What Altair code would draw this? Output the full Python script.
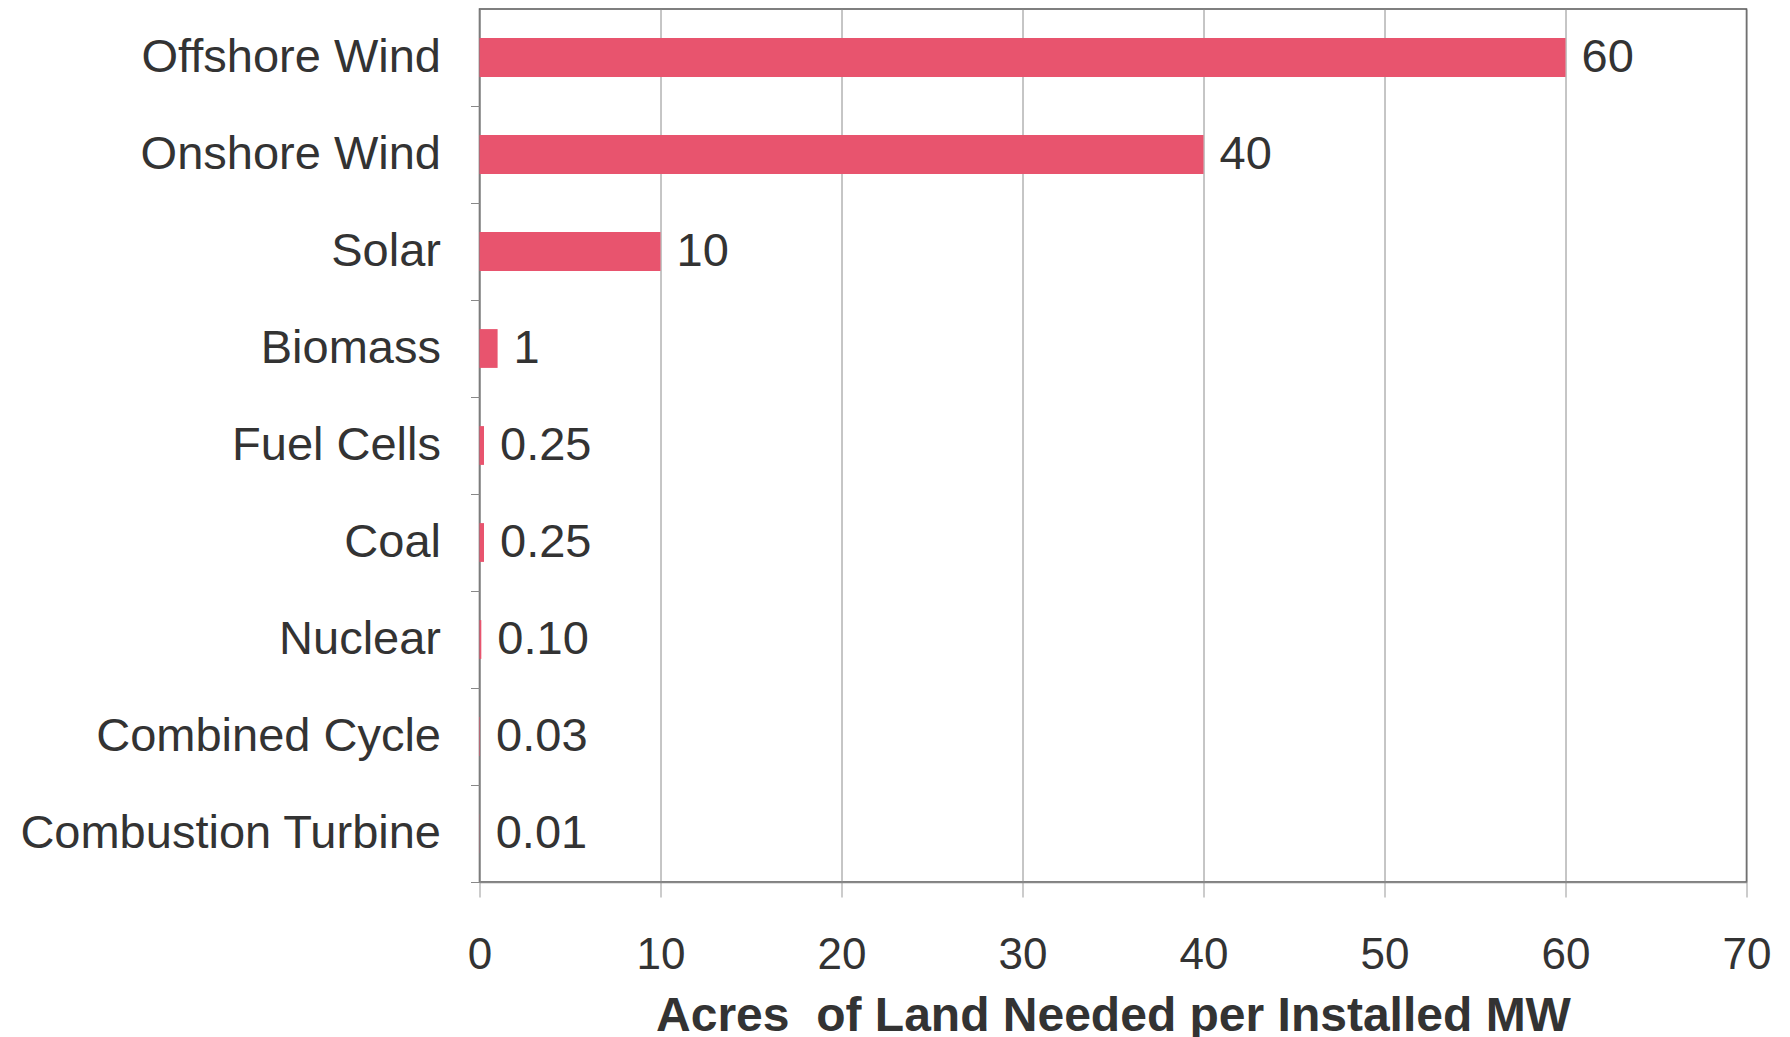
import altair as alt
import pandas as pd

categories = ["Offshore Wind", "Onshore Wind", "Solar", "Biomass", "Fuel Cells",
              "Coal", "Nuclear", "Combined Cycle", "Combustion Turbine"]
values = [60, 40, 10, 1, 0.25, 0.25, 0.10, 0.03, 0.01]
value_labels = ["60", "40", "10", "1", "0.25", "0.25", "0.10", "0.03", "0.01"]
x_ticks = [0, 10, 20, 30, 40, 50, 60, 70]

df = pd.DataFrame({"cat": categories, "val": values, "label": value_labels})

FONT = "Liberation Sans"
TXT = "#333333"
PLOT_H = 873
HALF_STEP = PLOT_H / len(categories) / 2

y_enc = alt.Y(
    "cat:N", sort=categories,
    scale=alt.Scale(paddingInner=0.6, paddingOuter=0.3),
    axis=alt.Axis(title=None, labelFont=FONT, labelFontSize=47, labelColor=TXT,
                  labelPadding=30, labelLimit=1000,
                  tickOffset=HALF_STEP, labelOffset=-HALF_STEP,
                  tickSize=9, tickColor="#888888", domainColor="#888888",
                  grid=False),
)

x_enc = alt.X(
    "val:Q",
    scale=alt.Scale(domain=[0, 70], nice=False),
    axis=alt.Axis(values=x_ticks, title="Acres\u00a0\u00a0of Land Needed per Installed MW",
                  titleFont=FONT, titleFontSize=48, titleFontWeight="bold",
                  titleColor=TXT, titleBaseline="alphabetic", titleY=148,
                  labelFont=FONT, labelFontSize=44, labelColor=TXT, labelFlush=False,
                  labelPadding=36, tickSize=15, tickColor="#999999",
                  domainColor="#888888", domainWidth=1.5,
                  grid=True, gridColor="#8c8c8c", gridWidth=1),
)

base = alt.Chart(df)
bars = base.mark_bar(color="#E8546E").encode(x=x_enc, y=y_enc)
text = base.mark_text(align="left", dx=16, font=FONT, fontSize=47, color=TXT).encode(
    x=alt.X("val:Q"), y=alt.Y("cat:N", sort=categories), text="label:N")

chart = (bars + text).properties(
    width=1267, height=PLOT_H,
    autosize=alt.AutoSizeParams(type="none"),
    padding={"left": 471.5, "top": 1, "right": 30, "bottom": 175},
).configure_view(stroke="#555555", strokeWidth=1.5)

chart.save("out.html", embed_options={"renderer": "svg", "actions": False})
